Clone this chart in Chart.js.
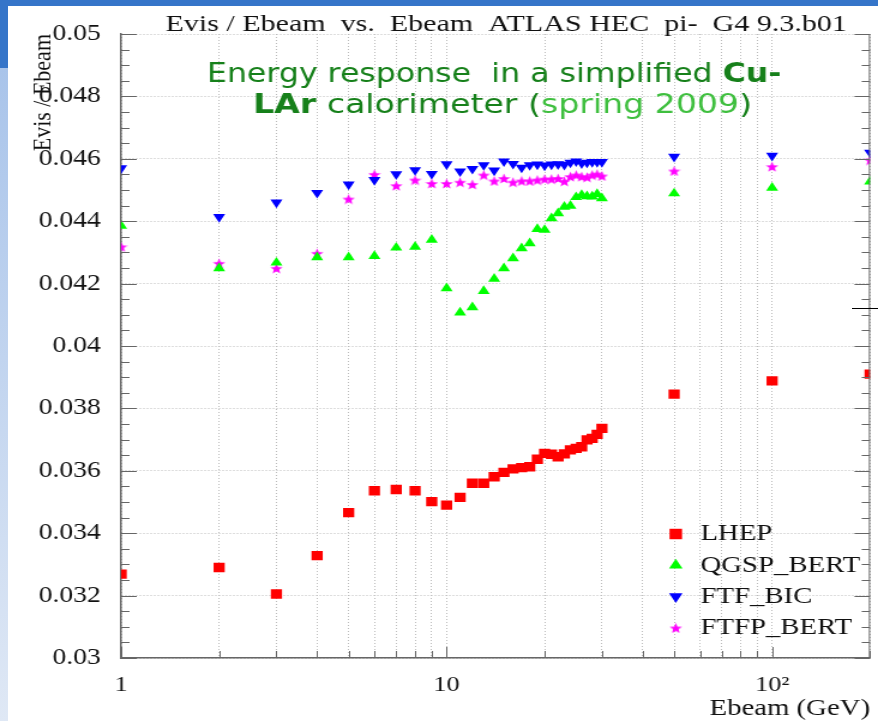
<!DOCTYPE html>
<html>
<head>
<meta charset="utf-8">
<title>Evis / Ebeam vs. Ebeam</title>
<script src="https://cdn.jsdelivr.net/npm/chart.js@4.4.0/dist/chart.umd.min.js"></script>
<style>
  html, body { margin: 0; padding: 0; background: #fff; }
  body { width: 878px; height: 721px; position: relative; overflow: hidden; }
  #topbar { position: absolute; left: 0; top: 0; width: 878px; height: 6px; background: #3575c9; }
  #sidebar { position: absolute; left: 0; top: 0; width: 8px; height: 721px;
             background: linear-gradient(#3575c9 0, #3575c9 68px, #a9c4ea 68px, #dfe8f5 721px); }
  #stray { position: absolute; left: 852px; top: 308px; width: 26px; height: 1px; background: #000; }
  #plot { position: absolute; left: 0; top: 0; }
</style>
</head>
<body>
<div id="topbar"></div>
<div id="sidebar"></div>
<!-- the plot is rendered 732px wide and shown 878px wide, like the stretched ROOT canvas -->
<canvas id="plot" width="732" height="721" style="width:878px;height:721px"></canvas>
<div id="stray"></div>
<script>
    'use strict';

    // beam energies (GeV)
    var energy = [1, 2, 3, 4, 5, 6, 7, 8, 9, 10, 11, 12, 13, 14, 15, 16, 17, 18, 19, 20,
                  21, 22, 23, 24, 25, 26, 27, 28, 29, 30, 50, 100, 200];

    // Evis / Ebeam for each physics list
    var lhep = [0.03269, 0.0329, 0.03205, 0.03328, 0.03466, 0.03536, 0.0354, 0.03536, 0.03501, 0.0349,
                0.03515, 0.0356, 0.0356, 0.03581, 0.03595, 0.03606, 0.0361, 0.03613, 0.03637, 0.03656,
                0.03653, 0.03645, 0.03654, 0.03667, 0.03672, 0.03677, 0.03699, 0.03704, 0.03717, 0.03736,
                0.03846, 0.03888, 0.0391];
    var qgspBert = [0.04385, 0.04249, 0.04267, 0.04284, 0.04284, 0.04288, 0.04315, 0.04318, 0.0434, 0.04185,
                    0.04107, 0.04124, 0.04176, 0.04215, 0.04249, 0.04281, 0.04313, 0.04329, 0.04375, 0.04372,
                    0.04409, 0.04425, 0.04446, 0.04449, 0.04477, 0.04484, 0.0448, 0.04479, 0.04487, 0.04473,
                    0.04489, 0.04507, 0.04527];
    var ftfBic = [0.0457, 0.04414, 0.0446, 0.04491, 0.04518, 0.04532, 0.04551, 0.04564, 0.04552, 0.04583,
                  0.0456, 0.04568, 0.0458, 0.04563, 0.04592, 0.04584, 0.04572, 0.0458, 0.04582, 0.04579,
                  0.04582, 0.04583, 0.04581, 0.04588, 0.04592, 0.04586, 0.04588, 0.0459, 0.0459, 0.0459,
                  0.04607, 0.0461, 0.0462];
    var ftfpBert = [0.04318, 0.04265, 0.04249, 0.04297, 0.04471, 0.0455, 0.04514, 0.04532, 0.04521, 0.04521,
                    0.04525, 0.04518, 0.04548, 0.04529, 0.04537, 0.04525, 0.04529, 0.04529, 0.04532, 0.04535,
                    0.04535, 0.04537, 0.04528, 0.04543, 0.04548, 0.04543, 0.04541, 0.04548, 0.04551, 0.04545,
                    0.04561, 0.04575, 0.04596];

    // axis ticks
    var xGrid = [1, 2, 3, 4, 5, 6, 7, 8, 9, 10, 20, 30, 40, 50, 60, 70, 80, 90, 100, 200];
    var xLabels = {1: '1', 10: '10', 100: '10\u00b2'};
    var yTicks = [0.03, 0.032, 0.034, 0.036, 0.038, 0.04, 0.042, 0.044, 0.046, 0.048, 0.05];
    var yLabels = ['0.03', '0.032', '0.034', '0.036', '0.038', '0.04', '0.042', '0.044', '0.046', '0.048', '0.05'];
    var yMinorPerMajor = 4;

    var serif = '"Liberation Serif", "Times New Roman", serif';

    function points(values) {
        return energy.map(function (e, i) { return {x: e, y: values[i]}; });
    }

    // filled five-pointed star marker
    function starMarker(size, color) {
        var c = document.createElement('canvas');
        c.width = size; c.height = size;
        var g = c.getContext('2d');
        var ro = size / 2, ri = ro * 0.42;
        g.beginPath();
        for (var k = 0; k < 10; k++) {
            var r = k % 2 ? ri : ro;
            var a = -Math.PI / 2 + k * Math.PI / 5;
            g.lineTo(ro + r * Math.cos(a), ro + 0.6 + r * Math.sin(a));
        }
        g.closePath();
        g.fillStyle = color;
        g.fill();
        return c;
    }

    // stretch a run of text segments so it spans the given width
    function drawFitted(ctx, parts, left, width, baseline) {
        var natural = 0;
        parts.forEach(function (p) {
            ctx.font = p.font;
            p.w = ctx.measureText(p.text).width;
            natural += p.w;
        });
        ctx.save();
        ctx.translate(left, baseline);
        ctx.scale(width / natural, 1);
        ctx.textAlign = 'left';
        ctx.textBaseline = 'alphabetic';
        var x = 0;
        parts.forEach(function (p) {
            ctx.font = p.font;
            ctx.fillStyle = p.color;
            ctx.fillText(p.text, x, 0);
            x += p.w;
        });
        ctx.restore();
    }

    // solid right edge plus inward tick marks on the frame
    var frameTicks = {
        id: 'frameTicks',
        afterDatasetsDraw: function (chart) {
            var ctx = chart.ctx, area = chart.chartArea;
            var xs = chart.scales.x, ys = chart.scales.y;
            ctx.save();
            ctx.strokeStyle = '#666';
            ctx.lineWidth = 1;
            ctx.beginPath();
            ctx.moveTo(area.right - 0.5, area.top);
            ctx.lineTo(area.right - 0.5, area.bottom);
            var minor = (yTicks[1] - yTicks[0]) / yMinorPerMajor;
            var n = Math.round((yTicks[yTicks.length - 1] - yTicks[0]) / minor);
            for (var k = 0; k <= n; k++) {
                var py = Math.round(ys.getPixelForValue(yTicks[0] + k * minor)) + 0.5;
                var len = k % yMinorPerMajor === 0 ? 13 : 7;
                ctx.moveTo(area.left, py); ctx.lineTo(area.left + len, py);
                ctx.moveTo(area.right, py); ctx.lineTo(area.right - len, py);
            }
            xs.ticks.forEach(function (t) {
                var px = Math.round(xs.getPixelForValue(t.value)) + 0.5;
                var len = xLabels[t.value] ? 11 : 7;
                ctx.moveTo(px, area.bottom); ctx.lineTo(px, area.bottom - len);
            });
            ctx.stroke();
            ctx.restore();
        }
    };

    // title, green caption and the in-frame legend
    var captions = {
        id: 'captions',
        afterDraw: function (chart) {
            var ctx = chart.ctx, area = chart.chartArea;
            var dark = '#16801a', light = '#3fbf3f';
            var comic = '26px "DejaVu Sans", sans-serif';
            var comicBold = 'bold 26px "DejaVu Sans", sans-serif';

            drawFitted(ctx, [{text: 'Evis / Ebeam  vs.  Ebeam  ATLAS HEC  pi-  G4 9.3.b01', font: '23px ' + serif, color: '#111'}],
                       138, 568, 31);
            drawFitted(ctx, [
                {text: 'Energy response  in a simplified ', font: comic, color: dark},
                {text: 'Cu-', font: comicBold, color: dark}
            ], 172.5, 479, 82);
            drawFitted(ctx, [
                {text: 'LAr', font: comicBold, color: dark},
                {text: ' calorimeter (', font: comic, color: dark},
                {text: 'spring 2009', font: comic, color: light},
                {text: ')', font: comic, color: dark}
            ], 211, 416, 113);

            // legend
            var markerX = area.right - 162, textX = area.right - 141.5;
            var rowY = area.bottom - 124, step = 31.3;
            ctx.save();
            ctx.font = '24px ' + serif;
            ctx.textAlign = 'left';
            ctx.textBaseline = 'middle';
            chart.data.datasets.forEach(function (ds, i) {
                var y = rowY + i * step;
                ctx.fillStyle = ds.backgroundColor;
                ctx.strokeStyle = ds.borderColor;
                Chart.helpers.drawPoint(ctx, {
                    pointStyle: ds.pointStyle, rotation: ds.rotation || 0,
                    radius: ds.pointRadius * 1.12, borderWidth: 0
                }, markerX, y);
                ctx.fillStyle = '#111';
                ctx.fillText(ds.label, textX, y);
            });
            ctx.restore();
        }
    };

    var ctx = document.getElementById('plot').getContext('2d');
    window.responseChart = new Chart(ctx, {
        type: 'scatter',
        data: {
            datasets: [{
                label: 'LHEP',
                data: points(lhep),
                pointStyle: 'rect',
                pointRadius: 6.6,
                backgroundColor: '#ff0000',
                borderColor: '#ff0000',
                borderWidth: 0,
                clip: 0
            }, {
                label: 'QGSP_BERT',
                data: points(qgspBert),
                pointStyle: 'triangle',
                pointRadius: 5.8,
                backgroundColor: '#00ff00',
                borderColor: '#00ff00',
                borderWidth: 0,
                clip: 0
            }, {
                label: 'FTF_BIC',
                data: points(ftfBic),
                pointStyle: 'triangle',
                rotation: 180,
                pointRadius: 5.8,
                backgroundColor: '#0000ff',
                borderColor: '#0000ff',
                borderWidth: 0,
                clip: 0
            }, {
                label: 'FTFP_BERT',
                data: points(ftfpBert),
                pointStyle: starMarker(11, '#ff00ff'),
                pointRadius: 5.5,
                backgroundColor: '#ff00ff',
                borderColor: '#ff00ff',
                borderWidth: 0,
                clip: 0
            }]
        },
        options: {
            responsive: false,
            animation: false,
            devicePixelRatio: 1,
            layout: {padding: {left: 0, right: 3, top: 34, bottom: 0}},
            plugins: {
                legend: {display: false},
                tooltip: {enabled: false}
            },
            scales: {
                x: {
                    type: 'logarithmic',
                    min: 1,
                    max: 200,
                    afterBuildTicks: function (scale) {
                        scale.ticks = xGrid.map(function (v) { return {value: v}; });
                    },
                    afterFit: function (scale) {
                        scale.height = 63;
                        // keep the frame flush with the canvas edge
                        scale.paddingLeft = 0;
                        scale.paddingRight = 0;
                    },
                    grid: {color: '#bdbdbd', lineWidth: 1, drawTicks: false},
                    border: {display: true, color: '#666', width: 1.5, dash: [1, 2]},
                    ticks: {
                        autoSkip: false,
                        maxRotation: 0,
                        padding: 14,
                        color: '#111',
                        font: {family: serif, size: 22},
                        callback: function (value) { return xLabels[value] || ''; }
                    },
                    title: {
                        display: true,
                        text: 'Ebeam (GeV)',
                        align: 'end',
                        color: '#111',
                        font: {family: serif, size: 24, lineHeight: 1},
                        padding: {top: 0, bottom: 0}
                    }
                },
                y: {
                    type: 'linear',
                    min: yTicks[0],
                    max: yTicks[yTicks.length - 1],
                    afterBuildTicks: function (scale) {
                        scale.ticks = yTicks.map(function (v) { return {value: v}; });
                    },
                    afterFit: function (scale) { scale.width = 101; },
                    grid: {color: '#bdbdbd', lineWidth: 1, drawTicks: false},
                    border: {display: true, color: '#666', width: 1.5, dash: [1, 2]},
                    ticks: {
                        autoSkip: false,
                        padding: 17,
                        color: '#111',
                        font: {family: serif, size: 23},
                        callback: function (value, index) { return yLabels[index]; }
                    },
                    title: {
                        display: true,
                        text: 'Evis / Ebeam',
                        align: 'end',
                        color: '#111',
                        font: {family: serif, size: 22, lineHeight: 1},
                        padding: {top: 25, bottom: 0}
                    }
                }
            }
        },
        plugins: [frameTicks, captions]
    });
</script>
</body>
</html>
